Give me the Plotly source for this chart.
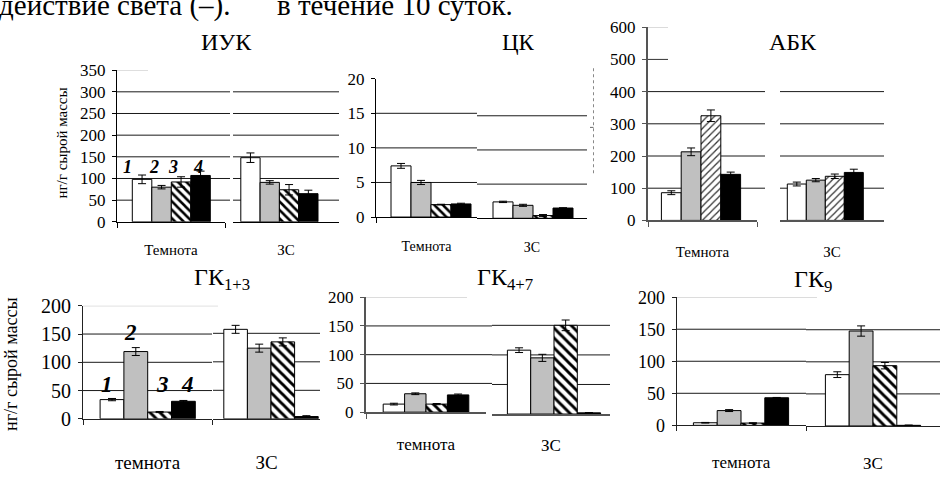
import plotly.graph_objects as go

W, H = 942, 478

# ---------------- data ----------------
groups_top = ["Темнота", "ЗС"]
groups_bottom = ["темнота", "ЗС"]
series = ["1", "2", "3", "4"]

iuk_dark = [98, 80, 92, 107]
iuk_dark_err = [10, 4, 12, 10]
iuk_zs = [148, 91, 74, 65]
iuk_zs_err = [11, 4, 12, 8]
iuk_ticks = [0, 50, 100, 150, 200, 250, 300, 350]

ck_dark = [7.4, 5.0, 1.8, 1.9]
ck_dark_err = [0.35, 0.3, 0.05, 0.1]
ck_zs = [2.4, 1.9, 0.4, 1.5]
ck_zs_err = [0.1, 0.15, 0.15, 0.05]
ck_ticks = [0, 5, 10, 15, 20]

abk_dark = [86, 213, 325, 143]
abk_dark_err = [6, 12, 18, 7]
abk_zs = [113, 125, 137, 149]
abk_zs_err = [6, 5, 7, 10]
abk_ticks = [0, 100, 200, 300, 400, 500, 600]

gk13_dark = [34, 119, 12, 31]
gk13_dark_err = [2, 7, 1, 1.5]
gk13_zs = [157, 124, 135, 4]
gk13_zs_err = [7, 7, 7, 1.5]

gk47_dark = [14, 32, 14, 30]
gk47_dark_err = [1.5, 1.5, 1, 1.5]
gk47_zs = [108, 95, 150, 2]
gk47_zs_err = [4, 6, 9, 0.5]

gk9_dark = [4, 23, 3.5, 43]
gk9_dark_err = [0.5, 1.5, 0.5, 0.5]
gk9_zs = [80, 148, 94, 1]
gk9_zs_err = [4.5, 8, 5, 0.5]

gk_ticks = [0, 50, 100, 150, 200]

y_label = "нг/г сырой массы"
top_line_left = "действие света (–)."
top_line_right = "в течение 10 суток."

panel_data = [
    dict(title="ИУК", groups=groups_top, values=(iuk_dark, iuk_zs),
         errors=(iuk_dark_err, iuk_zs_err), ticks=iuk_ticks, numbered=True),
    dict(title="ЦК", groups=groups_top, values=(ck_dark, ck_zs),
         errors=(ck_dark_err, ck_zs_err), ticks=ck_ticks, numbered=False),
    dict(title="АБК", groups=groups_top, values=(abk_dark, abk_zs),
         errors=(abk_dark_err, abk_zs_err), ticks=abk_ticks, numbered=False),
    dict(title="ГК<sub>1+3</sub>", groups=groups_bottom, values=(gk13_dark, gk13_zs),
         errors=(gk13_dark_err, gk13_zs_err), ticks=gk_ticks, numbered=True),
    dict(title="ГК<sub>4+7</sub>", groups=groups_bottom, values=(gk47_dark, gk47_zs),
         errors=(gk47_dark_err, gk47_zs_err), ticks=gk_ticks, numbered=False),
    dict(title="ГК<sub>9</sub>", groups=groups_bottom, values=(gk9_dark, gk9_zs),
         errors=(gk9_dark_err, gk9_zs_err), ticks=gk_ticks, numbered=False),
]

# ---------------- geometry & style (pixels) ----------------
# xl/xr: left/right sub-panel extents; yl/yr: pixel rows of zero and of the top tick
panel_geom = [
    dict(xl=(117, 225), xr=(233, 339), yl=(221, 62), yr=(221, 62),
         bw=(19.5, 19.3), center=(171.3, 279.4), grid_ext=5,
         grid=[50, 100, 150, 200, 250, 300], short=[(350, 148, "#bbbbbb")],
         title_xy=(226, 33, 24), ytick_size=17, xlab_size=15, standoff=(14, 14),
         axis=("#000000", 1), hatch="\\", hatch_style=(6, 0.42, "#000000"),
         num_pos=(127, 127, 127, 127), num_shift=(-15, -8, -8, -3), num_size=18),
    dict(xl=(376, 477), xr=(477, 587), yl=(216, 71), yr=(217.3, 74),
         bw=(20, 20), center=(431, 533), grid_ext=0,
         grid=[5, 10, 15], short=[],
         title_xy=(518, 33, 23), ytick_size=17, xlab_size=14, standoff=(16, 16),
         axis=("#000000", 1), hatch="\\", hatch_style=(6, 0.42, "#000000")),
    dict(xl=(648, 757), xr=(780, 884), yl=(219.5, 17), yr=(219.5, 17),
         bw=(19.8, 19.0), center=(701, 825.3), grid_ext=8,
         grid=[100, 200, 300, 400], short=[(600, 668, "#bbbbbb"), (500, 668, "#333333")],
         title_xy=(793, 33, 24), ytick_size=17, xlab_size=15, standoff=(17, 17),
         axis=("#555555", 2), hatch="/", hatch_style=(5, 0.25, "#333333")),
    dict(xl=(83, 212), xr=(213, 320), yl=(427.5, 309), yr=(427.5, 308),
         bw=(23.8, 23.6), center=(147.7, 271), grid_ext=0,
         grid=[50, 100, 150], short=[(200, 218, "#bbbbbb")],
         title_xy=(222, 281, 24), ytick_size=20, xlab_size=19, standoff=(26, 26),
         axis=("#222222", 1), hatch="\\", hatch_style=(7, 0.42, "#000000"),
         num_pos=(60, 152, 60, 60), num_shift=(-5, -5, 3, 4), num_size=23),
    dict(xl=(366, 486), xr=(492, 610), yl=(420.5, 300), yr=(422.5, 298.5),
         bw=(21.4, 23.3), center=(426, 554), grid_ext=6,
         grid=[50, 100, 150], short=[(200, 467, "#bbbbbb")],
         title_xy=(505, 281, 24), ytick_size=17, xlab_size=17, standoff=(15, 15),
         axis=("#555555", 2), hatch="\\", hatch_style=(7, 0.42, "#000000")),
    dict(xl=(676.5, 806), xr=(806, 940), yl=(434.3, 300), yr=(435, 300.5),
         bw=(23.8, 23.8), center=(741, 873), grid_ext=0,
         grid=[50, 100, 150], short=[(200, 817, "#bbbbbb")],
         title_xy=(813, 283, 24), ytick_size=18, xlab_size=17, standoff=(21, 22),
         axis=("#222222", 1), hatch="\\", hatch_style=(7, 0.42, "#000000")),
]

FONT = "Liberation Serif, Times New Roman, Times, DejaVu Serif, serif"
GRID_COLOR = "#1a1a1a"


def fx(p):
    return p / W


def fy(p):
    return 1 - p / H


def bar_marker(k, g):
    line = dict(color="#000000", width=1)
    if k == 0:
        return dict(color="#ffffff", line=line)
    if k == 1:
        return dict(color="#c0c0c0", line=line)
    if k == 2:
        size, solidity, fg = g["hatch_style"]
        return dict(color="#ffffff", line=line,
                    pattern=dict(shape=g["hatch"], size=size, solidity=solidity,
                                 fgcolor=fg, bgcolor="#ffffff", fillmode="replace"))
    return dict(color="#000000", line=line)


fig = go.Figure()
axes = {}
shapes = []
annotations = []

for i, (d, g) in enumerate(zip(panel_data, panel_geom)):
    ymax = d["ticks"][-1]
    ax_color, ax_width = g["axis"]
    for side in (0, 1):
        n = 2 * i + side + 1
        sfx = "" if n == 1 else str(n)
        xref, yref = "x" + sfx, "y" + sfx
        x0, x1 = g["xl"] if side == 0 else g["xr"]
        yb, yt = g["yl"] if side == 0 else g["yr"]
        wpx = x1 - x0
        w = g["bw"][side] / wpx
        shift = (g["center"][side] - (x0 + x1) / 2) / wpx
        cat = d["groups"][side]
        vals = d["values"][side]
        errs = d["errors"][side]

        for k in range(4):
            fig.add_trace(go.Bar(
                x=[cat], y=[vals[k]], name=series[k],
                width=w, offset=shift - 2 * w + k * w,
                xaxis=xref, yaxis=yref, showlegend=False,
                marker=bar_marker(k, g),
                error_y=dict(type="data", array=[errs[k]], visible=True,
                             color="#000000", thickness=1, width=4),
            ))

        # numbered series labels above the dark-group bars
        if side == 0 and d["numbered"]:
            for k in range(4):
                annotations.append(dict(
                    xref=xref, yref=yref, x=shift - 1.5 * w + k * w, y=g["num_pos"][k],
                    xshift=g["num_shift"][k], text="<b><i>%s</i></b>" % series[k],
                    showarrow=False, font=dict(family=FONT, size=g["num_size"], color="#000000"),
                ))

        axes["xaxis" + sfx] = dict(
            domain=[fx(x0), fx(x1)], anchor=yref, type="category", range=[-0.5, 0.5],
            showline=True, linecolor=ax_color, linewidth=ax_width,
            ticks="outside" if side == 0 else "", tickson="boundaries",
            ticklen=5, tickcolor=ax_color, tickwidth=1,
            showgrid=False, zeroline=False, fixedrange=True,
            tickfont=dict(family=FONT, size=g["xlab_size"], color="#000000"),
            ticklabelstandoff=g["standoff"][side],
        )
        axes["yaxis" + sfx] = dict(
            domain=[fy(yb), fy(yt)], anchor=xref, range=[0, ymax],
            tickmode="array", tickvals=d["ticks"],
            showticklabels=(side == 0), showline=(side == 0),
            linecolor=ax_color, linewidth=ax_width,
            ticks="outside" if side == 0 else "", ticklen=4, tickcolor=ax_color,
            showgrid=False, zeroline=False, fixedrange=True,
            tickfont=dict(family=FONT, size=g["ytick_size"], color="#000000"),
            ticklabelstandoff=3,
        )

        # horizontal gridlines
        ext = (g["grid_ext"] / wpx) if side == 0 else 0
        for v in g["grid"]:
            shapes.append(dict(type="line", layer="below", xref=xref + " domain", yref=yref,
                               x0=0, x1=1 + ext, y0=v, y1=v,
                               line=dict(color=GRID_COLOR, width=1)))
        if side == 0:
            for v, xend, col in g["short"]:
                shapes.append(dict(type="line", layer="below", xref=xref + " domain", yref=yref,
                                   x0=0, x1=(xend - x0) / wpx, y0=v, y1=v,
                                   line=dict(color=col, width=1)))

    tx, ty, ts = g["title_xy"]
    annotations.append(dict(xref="paper", yref="paper", x=fx(tx), y=fy(ty), text=d["title"],
                            showarrow=False, xanchor="center", yanchor="middle",
                            font=dict(family=FONT, size=ts, color="#000000")))

# y-axis captions
annotations.append(dict(xref="paper", yref="paper", x=fx(62), y=fy(139), text=y_label,
                        textangle=-90, showarrow=False, xanchor="center", yanchor="middle",
                        font=dict(family=FONT, size=15, color="#000000")))
annotations.append(dict(xref="paper", yref="paper", x=fx(11), y=fy(371), text=y_label,
                        textangle=-90, showarrow=False, xanchor="center", yanchor="middle",
                        font=dict(family=FONT, size=18, color="#000000")))

# running text line cut by the top edge
annotations.append(dict(xref="paper", yref="paper", x=fx(-3), y=fy(-6), text=top_line_left,
                        showarrow=False, xanchor="left", yanchor="middle",
                        font=dict(family=FONT, size=29, color="#000000")))
annotations.append(dict(xref="paper", yref="paper", x=fx(275), y=fy(-6), text=top_line_right,
                        showarrow=False, xanchor="left", yanchor="middle",
                        font=dict(family=FONT, size=29, color="#000000")))

# dashed edge between the upper middle and right panels
shapes.append(dict(type="line", xref="paper", yref="paper", x0=fx(593.5), x1=fx(593.5),
                   y0=fy(60), y1=fy(172), line=dict(color="#888888", width=1, dash="dot")))
shapes.append(dict(type="line", xref="paper", yref="paper", x0=fx(590), x1=fx(593.5),
                   y0=fy(122), y1=fy(122), line=dict(color="#666666", width=1)))

fig.update_layout(
    width=W, height=H, margin=dict(l=0, r=0, t=0, b=0),
    paper_bgcolor="#ffffff", plot_bgcolor="rgba(0,0,0,0)",
    barmode="overlay", showlegend=False,
    font=dict(family=FONT, color="#000000"),
    shapes=shapes, annotations=annotations,
    **axes,
)

fig.write_html("out.html")
